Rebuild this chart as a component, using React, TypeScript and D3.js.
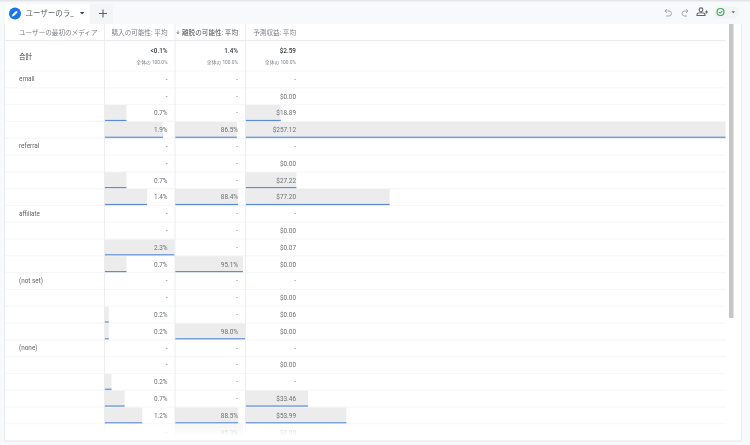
import React, { useEffect, useRef } from "react";
import * as d3 from "d3";

const media = ["email", "referral", "affiliate", "(not set)", "(none)"];
const mediaRowStart = [0, 4, 8, 12, 16];

const headers = ["ユーザーの最初のメディア", "購入の可能性: 平均", "離脱の可能性: 平均", "予測収益: 平均"];
const totalLabel = "合計";
const totals = ["<0.1%", "1.4%", "$2.59"];
const totalNote = "全体の 100.0%";

// values, labels from the cells ("-" where null)
const purchase = [
  null, null, 0.72, 1.92,
  null, null, 0.72, 1.4,
  null, null, 2.3, 0.72,
  null, null, 0.14, 0.14,
  null, null, 0.23, 0.66, 1.24, null,
];
const purchaseLabels = [
  "-", "-", "0.7%", "1.9%",
  "-", "-", "0.7%", "1.4%",
  "-", "-", "2.3%", "0.7%",
  "-", "-", "0.2%", "0.2%",
  "-", "-", "0.2%", "0.7%", "1.2%", "-",
];
const churn = [
  null, null, null, 86.5,
  null, null, null, 88.4,
  null, null, null, 95.1,
  null, null, null, 98.0,
  null, null, null, null, 88.5, 95.3,
];
const revenue = [
  null, 0, 18.89, 257.12,
  null, 0, 27.22, 77.2,
  null, 0, 0.07, 0,
  null, 0, 0.06, 0,
  null, 0, null, 33.46, 53.99, 0,
];

const pct = (v: number | null) => (v === null ? "-" : `${v.toFixed(1)}%`);
const usd = (v: number | null) => (v === null ? "-" : `$${v.toFixed(2)}`);

const font = "Roboto, 'Noto Sans CJK JP', sans-serif";

const App: React.FC = () => {
  const svgRef = useRef<SVGSVGElement | null>(null);

  useEffect(() => {
    document.body.style.margin = "0";
    const svg = d3.select(svgRef.current);
    svg.selectAll("*").remove();

    const width = 750;
    const height = 445;
    const card = { left: 5, right: 741, top: 24, bottom: 440.4 };
    const colX = [5, 104.5, 175, 245.5];
    const rowTop = 71;
    const rowH = 16.8;
    const lastRow = 21; // cut off by the card, fades out

    const y = (i: number) => rowTop + i * rowH;
    const purchaseX = d3.scaleLinear().domain([0, 2.3]).range([colX[1], colX[1] + 70]);
    const churnX = d3.scaleLinear().domain([0, 98]).range([colX[2], colX[2] + 70]);
    const revenueX = d3.scaleLinear().domain([0, 257.12]).range([colX[3], 725.5]);

    // page + card
    svg.append("rect").attr("width", width).attr("height", height).attr("fill", "#f8f9fa");
    svg.append("rect").attr("width", width).attr("height", 1.5).attr("fill", "#e3e5e8");
    svg
      .append("rect")
      .attr("x", card.left - 0.5)
      .attr("y", card.top)
      .attr("width", card.right - card.left + 1)
      .attr("height", card.bottom - card.top + 1)
      .attr("fill", "#dcdee1");
    svg
      .append("rect")
      .attr("x", card.left)
      .attr("y", card.top)
      .attr("width", card.right - card.left)
      .attr("height", card.bottom - card.top)
      .attr("fill", "#ffffff");

    // tab
    svg.append("path").attr("d", "M5,24V7a3,3 0 0 1 3,-3H87a3,3 0 0 1 3,3V24Z").attr("fill", "#ffffff");
    svg.append("path").attr("d", "M90,24V7a3,3 0 0 1 3,-3H110a3,3 0 0 1 3,3V24Z").attr("fill", "#f4f5f6");
    svg.append("circle").attr("cx", 15).attr("cy", 13.5).attr("r", 6).attr("fill", "#1a73e8");
    svg
      .append("path")
      .attr("d", "M12,16.5L12.4,14.6L16.3,10.7L17.8,12.2L13.9,16.1Z")
      .attr("fill", "#ffffff");
    svg
      .append("text")
      .attr("x", 25.5)
      .attr("y", 16.3)
      .attr("font-family", font)
      .attr("font-size", 7.5)
      .attr("fill", "#5f6368")
      .text("ユーザーのラ_");
    svg.append("path").attr("d", "M80,12H84.4L82.2,14.5Z").attr("fill", "#3c4043");
    svg
      .append("path")
      .attr("d", "M103,9.5V17.5M99,13.5H107")
      .attr("stroke", "#5f6368")
      .attr("stroke-width", 1.1)
      .attr("fill", "none");

    // toolbar icons
    const icons = svg.append("g").attr("fill", "none").attr("stroke", "#9aa0a6").attr("stroke-width", 0.9);
    icons.append("path").attr("d", "M667,9L665,11L667,13M665,11H669a2.5,2.5 0 0 1 0,5H666");
    icons.append("path").attr("d", "M686,9L688,11L686,13M688,11H684.5a2.5,2.5 0 0 0 0,5H687");
    const people = svg.append("g").attr("fill", "none").attr("stroke", "#5f6368").attr("stroke-width", 1.1);
    people.append("circle").attr("cx", 701).attr("cy", 9.8).attr("r", 1.9);
    people.append("path").attr("d", "M697,15.5v-1a4,1.8 0 0 1 8,0v1Z");
    svg.append("path").attr("d", "M706.5,10.5v3M705,12h3").attr("stroke", "#5f6368").attr("stroke-width", 0.9);
    svg
      .append("rect")
      .attr("x", 713)
      .attr("y", 6)
      .attr("width", 26)
      .attr("height", 12.5)
      .attr("rx", 6.2)
      .attr("fill", "#f3f4f5");
    svg
      .append("circle")
      .attr("cx", 720.5)
      .attr("cy", 12)
      .attr("r", 3.5)
      .attr("fill", "none")
      .attr("stroke", "#34a853")
      .attr("stroke-width", 1.1);
    svg
      .append("path")
      .attr("d", "M719,12L720.2,13.3L722.3,10.9")
      .attr("fill", "none")
      .attr("stroke", "#2c7a44")
      .attr("stroke-width", 0.9);
    svg.append("path").attr("d", "M731.5,11.2H735L733.2,13.2Z").attr("fill", "#5f6368");

    const table = svg.append("g").attr("font-family", font);

    // bars
    const drawBars = (values: (number | null)[], x: d3.ScaleLinear<number, number>) => {
      const rows = values
        .map((v, i) => ({ v, i }))
        .filter((d) => d.v !== null && x(d.v as number) - x(0) > 1);
      table
        .append("g")
        .selectAll("rect")
        .data(rows)
        .enter()
        .append("rect")
        .attr("x", x(0))
        .attr("y", (d) => y(d.i) + 0.4)
        .attr("width", (d) => x(d.v as number) - x(0))
        .attr("height", rowH - 0.6)
        .attr("fill", "#ececec");
      table
        .append("g")
        .selectAll("rect")
        .data(rows.filter((d) => d.i < lastRow))
        .enter()
        .append("rect")
        .attr("x", x(0))
        .attr("y", (d) => y(d.i) + rowH - 1.5)
        .attr("width", (d) => x(d.v as number) - x(0))
        .attr("height", 1.5)
        .attr("fill", "#4f83d4");
    };
    drawBars(purchase, purchaseX);
    drawBars(churn, churnX);
    drawBars(revenue, revenueX);

    // row rules
    const rules = [40.6, ...d3.range(0, 22).map((i) => y(i))];
    table
      .append("g")
      .selectAll("line")
      .data(rules)
      .enter()
      .append("line")
      .attr("x1", card.left)
      .attr("x2", 726)
      .attr("y1", (d) => d)
      .attr("y2", (d) => d)
      .attr("stroke", (d) => (d === 40.6 ? "#e4e5e7" : "#f3f4f5"))
      .attr("stroke-width", 0.8);

    // column rules
    table
      .append("g")
      .selectAll("line")
      .data(colX.slice(1))
      .enter()
      .append("line")
      .attr("x1", (d) => d)
      .attr("x2", (d) => d)
      .attr("y1", card.top)
      .attr("y2", card.bottom)
      .attr("stroke", "#e8eaed")
      .attr("stroke-width", 0.8);

    // header
    const right = [167.5, 238, 296];
    table
      .append("text")
      .attr("x", 19)
      .attr("y", 34.5)
      .attr("font-size", 6.6)
      .attr("fill", "#7b7f84")
      .text(headers[0]);
    headers.slice(1).forEach((h, i) => {
      table
        .append("text")
        .attr("x", right[i])
        .attr("y", 34.5)
        .attr("text-anchor", "end")
        .attr("font-size", 6.6)
        .attr("fill", i === 1 ? "#4d5156" : "#7b7f84")
        .text(h);
    });
    table
      .append("path")
      .attr("d", "M178,30.5V33.5M176.8,32.3L178,33.8L179.2,32.3")
      .attr("fill", "none")
      .attr("stroke", "#4d5156")
      .attr("stroke-width", 0.6);

    // totals
    table
      .append("text")
      .attr("x", 19)
      .attr("y", 58.5)
      .attr("font-size", 6.6)
      .attr("fill", "#3c4043")
      .text(totalLabel);
    totals.forEach((t, i) => {
      table
        .append("text")
        .attr("x", right[i])
        .attr("y", 53)
        .attr("text-anchor", "end")
        .attr("font-size", 6.4)
        .attr("font-weight", 500)
        .attr("fill", "#3c4043")
        .text(t);
      table
        .append("text")
        .attr("x", right[i])
        .attr("y", 63.5)
        .attr("text-anchor", "end")
        .attr("font-size", 4.8)
        .attr("fill", "#80868b")
        .text(totalNote);
    });

    // media labels
    media.forEach((m, i) => {
      table
        .append("text")
        .attr("x", 19)
        .attr("y", y(mediaRowStart[i]) + 10.2)
        .attr("font-size", 6.4)
        .attr("fill", "#5f6368")
        .text(m);
    });

    // cells
    const drawCells = (labels: string[], xRight: number) => {
      table
        .append("g")
        .selectAll("text")
        .data(labels)
        .enter()
        .append("text")
        .attr("x", xRight)
        .attr("y", (_, i) => y(i) + 10.8)
        .attr("text-anchor", "end")
        .attr("font-size", 6.4)
        .attr("fill", "#6b6f74")
        .text((d) => d);
    };
    drawCells(purchaseLabels, right[0]);
    drawCells(churn.map(pct), right[1]);
    drawCells(revenue.map(usd), right[2]);

    // bottom fade
    const defs = svg.append("defs");
    const grad = defs.append("linearGradient").attr("id", "fade").attr("x1", 0).attr("x2", 0).attr("y1", 0).attr("y2", 1);
    grad.append("stop").attr("offset", 0).attr("stop-color", "#fff").attr("stop-opacity", 0.5);
    grad.append("stop").attr("offset", 0.75).attr("stop-color", "#fff").attr("stop-opacity", 1);
    svg
      .append("rect")
      .attr("x", card.left)
      .attr("y", y(lastRow))
      .attr("width", card.right - card.left)
      .attr("height", card.bottom - y(lastRow))
      .attr("fill", "url(#fade)");

    // scrollbar
    svg.append("rect").attr("x", 729).attr("y", card.top).attr("width", 4.5).attr("height", 294).attr("fill", "#c6c6c6");
  }, []);

  return <svg ref={svgRef} width={750} height={445} style={{ display: "block", filter: "blur(0.3px)" }}></svg>;
};

export default App;
